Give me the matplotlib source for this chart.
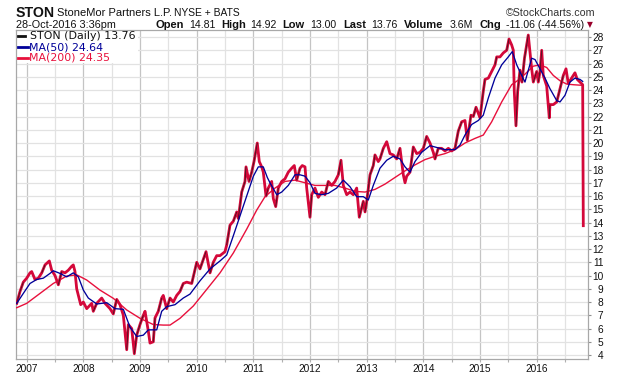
import matplotlib
matplotlib.use('Agg')
import matplotlib.pyplot as plt
from matplotlib.patches import Rectangle
from matplotlib.collections import LineCollection
from matplotlib.lines import Line2D

# ---------------- data (decimal years, price) ----------------
price_t = [2006.824, 2006.882, 2006.940, 2007.000, 2007.058, 2007.088, 2007.146, 2007.205, 2007.265, 2007.323,
           2007.399, 2007.441, 2007.499, 2007.558, 2007.618, 2007.676, 2007.734, 2007.794, 2007.822, 2007.852,
           2007.882, 2007.911, 2007.953, 2007.999, 2008.059, 2008.147, 2008.175, 2008.235, 2008.323, 2008.382,
           2008.470, 2008.528, 2008.588, 2008.646, 2008.705, 2008.765, 2008.793, 2008.853, 2008.899, 2008.941,
           2008.999, 2009.058, 2009.088, 2009.146, 2009.176, 2009.234, 2009.264, 2009.322, 2009.382, 2009.410,
           2009.470, 2009.529, 2009.587, 2009.647, 2009.705, 2009.763, 2009.823, 2009.912, 2010.000, 2010.058,
           2010.164, 2010.235, 2010.293, 2010.353, 2010.411, 2010.499, 2010.529, 2010.587, 2010.646, 2010.706,
           2010.734, 2010.794, 2010.852, 2010.870, 2010.923, 2010.970, 2011.011, 2011.069, 2011.104, 2011.147,
           2011.175, 2011.223, 2011.263, 2011.323, 2011.352, 2011.394, 2011.440, 2011.500, 2011.558, 2011.616,
           2011.676, 2011.722, 2011.764, 2011.823, 2011.863, 2011.911, 2011.941, 2011.999, 2012.029, 2012.087,
           2012.146, 2012.206, 2012.264, 2012.322, 2012.382, 2012.440, 2012.499, 2012.546, 2012.587, 2012.647,
           2012.705, 2012.763, 2012.823, 2012.869, 2012.940, 2012.970, 2013.000, 2013.058, 2013.116, 2013.146,
           2013.204, 2013.234, 2013.293, 2013.353, 2013.411, 2013.469, 2013.529, 2013.587, 2013.646, 2013.676,
           2013.706, 2013.764, 2013.822, 2013.882, 2013.940, 2013.999, 2014.058, 2014.117, 2014.175, 2014.205,
           2014.263, 2014.323, 2014.381, 2014.440, 2014.500, 2014.558, 2014.616, 2014.676, 2014.734, 2014.775,
           2014.840, 2014.881, 2014.929, 2014.999, 2015.057, 2015.087, 2015.146, 2015.205, 2015.264, 2015.294,
           2015.352, 2015.410, 2015.470, 2015.511, 2015.558, 2015.587, 2015.604, 2015.634, 2015.664, 2015.705,
           2015.740, 2015.784, 2015.823, 2015.851, 2015.881, 2015.911, 2015.940, 2015.999, 2016.028, 2016.058,
           2016.088, 2016.116, 2016.176, 2016.222, 2016.234, 2016.293, 2016.353, 2016.411, 2016.469, 2016.517,
           2016.557, 2016.617, 2016.675, 2016.716, 2016.764, 2016.811, 2016.822]
price_v = [7.9, 8.8, 9.5, 9.8, 10.2, 10.3, 9.7, 9.8, 10.2, 10.8,
           11.1, 10.4, 10.0, 9.3, 10.3, 10.2, 10.4, 10.7, 10.8, 10.3,
           9.0, 8.5, 7.8, 8.0, 7.5, 7.9, 7.3, 7.9, 8.3, 7.9,
           7.5, 7.1, 8.2, 7.8, 7.0, 4.4, 6.3, 6.0, 4.1, 5.5,
           6.3, 7.0, 7.3, 5.8, 4.9, 5.0, 6.8, 7.3, 8.3, 8.5,
           7.5, 8.3, 8.0, 8.5, 8.8, 9.4, 9.5, 9.4, 11.0, 10.5,
           11.8, 10.2, 11.0, 11.5, 11.5, 11.8, 12.3, 13.8, 14.1, 14.8,
           14.3, 16.3, 17.1, 18.2, 17.1, 17.8, 18.6, 20.0, 18.6, 18.2,
           17.8, 16.0, 16.6, 17.1, 15.8, 15.2, 16.6, 17.1, 17.3, 17.8,
           18.1, 18.3, 17.2, 18.1, 18.3, 18.2, 16.6, 14.4, 16.1, 16.6,
           15.9, 16.3, 16.1, 17.1, 16.8, 17.1, 17.6, 18.7, 16.8, 16.1,
           16.3, 16.1, 16.6, 14.4, 15.6, 14.8, 15.6, 17.6, 18.3, 19.1,
           18.6, 18.8, 19.6, 20.1, 19.2, 19.1, 18.8, 19.6, 17.6, 17.0,
           17.5, 17.8, 19.7, 19.2, 19.3, 19.6, 20.5, 20.0, 19.3, 18.8,
           19.6, 19.6, 19.4, 19.6, 19.4, 19.6, 20.9, 21.6, 21.7, 20.2,
           22.1, 22.0, 22.7, 21.9, 23.9, 24.8, 24.9, 25.4, 25.9, 26.5,
           26.5, 26.8, 27.0, 27.85, 27.4, 27.0, 23.9, 21.3, 23.9, 25.5,
           24.6, 26.4, 27.4, 28.15, 26.9, 25.6, 24.6, 25.4, 24.6, 25.4,
           27.0, 25.1, 24.3, 21.9, 22.9, 22.9, 23.1, 24.1, 25.1, 25.6,
           24.5, 24.9, 25.3, 24.8, 24.6, 24.4, 13.76]

ma50_t = [2006.824, 2006.940, 2007.058, 2007.176, 2007.293, 2007.411, 2007.469, 2007.588, 2007.706, 2007.822,
          2007.911, 2008.000, 2008.087, 2008.235, 2008.412, 2008.558, 2008.705, 2008.823, 2008.941, 2009.058,
          2009.146, 2009.294, 2009.382, 2009.470, 2009.617, 2009.763, 2009.882, 2010.058, 2010.235, 2010.411,
          2010.529, 2010.646, 2010.764, 2010.882, 2011.000, 2011.087, 2011.175, 2011.246, 2011.293, 2011.412,
          2011.500, 2011.616, 2011.734, 2011.823, 2011.911, 2012.000, 2012.087, 2012.206, 2012.322, 2012.470,
          2012.587, 2012.705, 2012.823, 2012.940, 2013.028, 2013.116, 2013.234, 2013.353, 2013.469, 2013.587,
          2013.676, 2013.764, 2013.852, 2013.970, 2014.117, 2014.205, 2014.381, 2014.558, 2014.646, 2014.734,
          2014.852, 2014.969, 2015.057, 2015.146, 2015.264, 2015.382, 2015.498, 2015.569, 2015.647, 2015.735,
          2015.793, 2015.911, 2015.970, 2016.058, 2016.146, 2016.234, 2016.353, 2016.411, 2016.499, 2016.587,
          2016.675, 2016.764, 2016.811]
ma50_v = [7.9, 8.65, 9.4, 9.7, 9.8, 10.16, 10.36, 10.16, 9.9, 10.2,
          9.9, 8.9, 8.3, 7.85, 7.95, 7.5, 7.45, 6.1, 5.4, 5.5,
          5.9, 5.9, 7.3, 7.65, 7.8, 8.3, 8.6, 9.6, 10.5, 11.1,
          11.55, 13.0, 14.5, 16.0, 17.5, 18.2, 18.2, 17.4, 17.0, 16.1,
          16.3, 16.8, 17.6, 17.6, 17.5, 17.0, 16.2, 16.1, 16.2, 16.6,
          17.2, 16.7, 15.95, 15.95, 15.7, 16.8, 18.1, 18.7, 19.0, 18.8,
          18.2, 17.8, 18.6, 19.3, 19.8, 19.7, 19.5, 19.5, 19.85, 20.6,
          21.4, 21.7, 22.1, 23.4, 24.9, 25.9, 26.5, 26.9, 25.9, 25.1,
          24.6, 26.4, 26.3, 25.6, 24.9, 24.1, 23.2, 23.1, 23.6, 24.6,
          24.9, 24.8, 24.65]

ma200_t = [2006.824, 2007.000, 2007.235, 2007.469, 2007.706, 2007.882, 2008.059, 2008.293, 2008.528, 2008.765,
           2009.000, 2009.234, 2009.410, 2009.529, 2009.705, 2009.940, 2010.176, 2010.411, 2010.646, 2010.882,
           2011.059, 2011.205, 2011.382, 2011.558, 2011.734, 2011.911, 2012.087, 2012.264, 2012.440, 2012.617,
           2012.793, 2012.970, 2013.146, 2013.323, 2013.499, 2013.676, 2013.852, 2014.029, 2014.205, 2014.381,
           2014.558, 2014.734, 2014.911, 2015.057, 2015.205, 2015.382, 2015.558, 2015.675, 2015.793, 2015.940,
           2016.058, 2016.176, 2016.293, 2016.411, 2016.529, 2016.646, 2016.822]
ma200_v = [7.57, 7.9, 8.65, 9.4, 9.96, 10.05, 9.66, 8.9, 8.28, 7.4,
           6.77, 6.3, 6.26, 6.26, 6.77, 7.7, 8.95, 10.2, 11.7, 13.5,
           14.94, 15.95, 16.6, 17.1, 17.2, 17.0, 16.8, 16.8, 16.8, 16.6,
           16.35, 16.3, 16.5, 16.9, 17.4, 17.9, 18.35, 18.75, 19.0, 19.2,
           19.5, 20.0, 20.35, 20.6, 21.6, 23.1, 24.4, 24.75, 25.2, 25.8,
           25.9, 25.7, 25.1, 24.7, 24.45, 24.4, 24.35]

years = list(range(2007, 2017))
year_labels = [str(y) for y in years]
half_years = [y + 0.5 for y in range(2007, 2017)]
y_ticks = list(range(4, 29))

# ---------------- figure ----------------
W, H = 620, 376
fig = plt.figure(figsize=(W / 100, H / 100), dpi=100)
fig.patch.set_facecolor('white')
L, R, T, B = 16, 588, 30, 359
ax = fig.add_axes([L / W, 1 - B / H, (R - L) / W, (B - T) / H])
ax.set_xlim(2006.811, 2016.905)
ax.set_ylim(3.70, 28.53)
ax.set_axisbelow(True)

ax.set_xticks(years)
ax.set_xticklabels(year_labels)
ax.set_xticks(half_years, minor=True)
ax.set_yticks(y_ticks)
ax.set_yticklabels([str(v) for v in y_ticks])
ax.yaxis.tick_right()
ax.grid(True, which='major', axis='x', color='#c4c4c4', lw=0.9)
ax.grid(True, which='minor', axis='x', color='#e2e2e2', lw=0.9)
ax.grid(True, which='major', axis='y', color='#e2e2e2', lw=0.9)

tick_font = dict(family='Liberation Sans', size=7.3)
ax.tick_params(axis='y', which='major', direction='out', length=2.5, width=0.8,
               color='#909090', pad=8.6, labelcolor='#111111')
for lab in ax.get_yticklabels():
    lab.set_fontproperties(tick_font)
    lab.set_ha('right')
ax.tick_params(axis='x', which='both', direction='out', length=2, width=0.8,
               color='#b0b0b0', pad=1.6, labelcolor='#111111')
for lab in ax.get_xticklabels():
    lab.set_fontproperties(tick_font)
for s in ax.spines.values():
    s.set_color('#a8a8a8')
    s.set_linewidth(0.9)

# legend background box
ax.add_patch(Rectangle((0, 1 - (63 - T) / (B - T)), (138 - L) / (R - L), (63 - T) / (B - T),
                       transform=ax.transAxes, facecolor='white', edgecolor='none', zorder=1))

# series
ax.plot(ma200_t, ma200_v, color='#e8103c', lw=1.0, zorder=3)
ax.plot(price_t, price_v, color='#d4083a', lw=2.0, zorder=4)
up_segs = [[(price_t[i], price_v[i]), (price_t[i + 1], price_v[i + 1])]
           for i in range(len(price_t) - 1) if price_v[i + 1] - price_v[i] > 0.5]
ax.add_collection(LineCollection(up_segs, colors='#1a1a1a', linewidths=0.45, zorder=5))
ax.plot(ma50_t, ma50_v, color='#000099', lw=0.95, zorder=6)

# ---------------- header text ----------------
def fx(px):
    return px / W

def fy(py):
    return 1 - py / H

fig.text(fx(16), fy(17), 'STON', fontfamily='Liberation Sans', fontweight='bold',
         fontsize=10.2, va='baseline', color='#111111')
fig.text(fx(57), fy(16), 'StoneMor Partners L.P.', fontfamily='Liberation Sans',
         fontsize=8.0, va='baseline', color='#111111')
fig.text(fx(174), fy(16), 'NYSE + BATS', fontfamily='Liberation Sans',
         fontsize=7.4, va='baseline', color='#111111')
fig.text(fx(506), fy(15.5), '\u00a9StockCharts.com', fontfamily='Liberation Sans',
         fontsize=7.7, va='baseline', color='#333333')

fig.text(fx(16), fy(27.5), '28-Oct-2016 3:36pm', fontfamily='Liberation Sans',
         fontsize=7.8, va='baseline', color='#111111')
row2 = [(155, 'Open', True), (189, '14.81', False), (221, 'High', True), (250, '14.92', False),
        (282, 'Low', True), (310, '13.00', False), (343, 'Last', True), (371, '13.76', False),
        (404, 'Volume', True), (450, '3.6M', False), (480, 'Chg', True),
        (506, '-11.06 (-44.56%)', False)]
for x, s, bold in row2:
    fig.text(fx(x), fy(27.5), s, fontfamily='Liberation Sans', fontsize=8.0 if bold else 7.6,
             fontweight='bold' if bold else 'normal', va='baseline', color='#111111')
fig.text(fx(587), fy(27.5), '\u25bc', fontfamily='DejaVu Sans', fontsize=5.5,
         va='baseline', color='#99002b')

# legend entries
leg = [(36, 'STON (Daily) 13.76', '#111111', 18, 25, 30.5),
       (47, 'MA(50) 24.64', '#000099', 18, 28, 29.3),
       (58, 'MA(200) 24.35', '#e8103c', 18, 28, 29.3)]
for yc, s, c, x0, x1, xt in leg:
    fig.add_artist(Line2D([fx(x0), fx(x1)], [fy(yc), fy(yc)], color=c, lw=2.0,
                          transform=fig.transFigure))
    fig.text(fx(xt), fy(yc), s, fontfamily='DejaVu Sans', fontsize=7.9, va='center', color=c)

fig.savefig('out.png', dpi=100, facecolor='white')
